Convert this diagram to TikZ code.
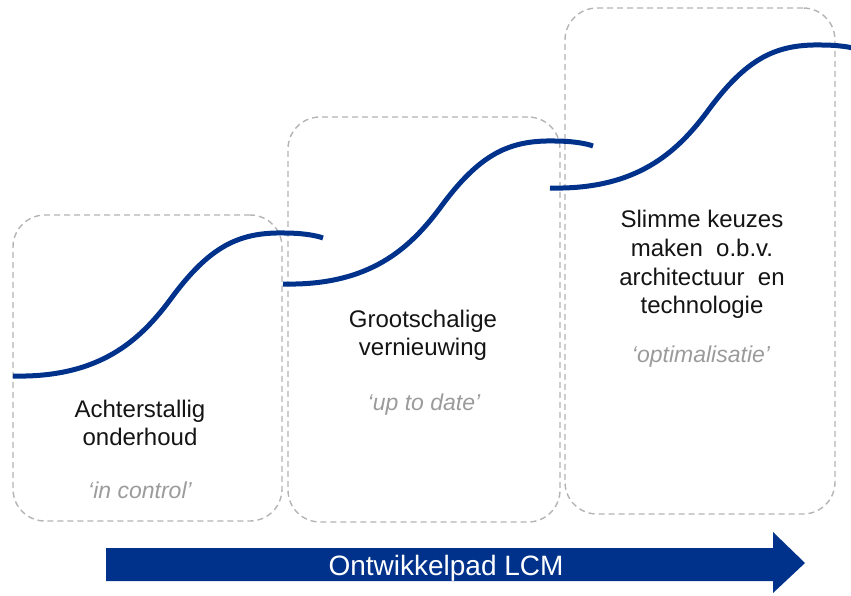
\documentclass[tikz,border=0pt]{standalone}
\usepackage{fontspec}
\setmainfont{Liberation Sans}
\definecolor{navy}{RGB}{0,50,140}
\definecolor{dashgrey}{RGB}{180,180,180}
\definecolor{txtgrey}{RGB}{155,155,155}
\definecolor{txtblack}{RGB}{20,20,20}
\tikzset{
  stagebox/.style={draw=dashgrey, dash pattern=on 6pt off 4pt, line width=1.4pt,
    rounded corners=32pt, anchor=north west, inner sep=0pt, outer sep=0pt},
  scurve/.style={draw=navy, line width=5pt},
  mainline/.style={anchor=base, font=\fontsize{24}{28}\selectfont, text=txtblack, inner sep=0pt},
  subline/.style={anchor=base, font=\fontsize{23}{28}\selectfont\itshape, text=txtgrey, inner sep=0pt},
  arrowtext/.style={anchor=base, font=\fontsize{28}{32}\selectfont, text=white, inner sep=0pt}
}
\begin{document}
\begin{tikzpicture}[x=1pt,y=-1pt]
\useasboundingbox (0,0) rectangle (851,595);
% stage boxes
\node[stagebox, minimum width=269pt, minimum height=306pt] (box1) at (13,215) {};
\node[stagebox, minimum width=272pt, minimum height=405pt] (box2) at (288,117) {};
\node[stagebox, minimum width=270pt, minimum height=506pt] (box3) at (565,8) {};
% S-curves
\foreach \dx/\dy in {0/0, 270/-92, 537/-188}{
  \draw[scurve, shift={(\dx,\dy)}] (13,376) .. controls (100,378) and (140,340) .. (170,300)
     .. controls (210,245) and (240,232) .. (285,233)
     .. controls (300,233) and (315,235) .. (323,238);
}
% texts box 1
\node[mainline] (t1a) at (140,417) {Achterstallig};
\node[mainline] (t1b) at (140,445) {onderhoud};
\node[subline] (s1) at (140,498) {‘in control’};
% texts box 2
\node[mainline] (t2a) at (423,327) {Grootschalige};
\node[mainline] (t2b) at (423,355) {vernieuwing};
\node[subline] (s2) at (424,410) {‘up to date’};
% texts box 3
\node[mainline] (t3a) at (702,227) {Slimme keuzes};
\node[mainline] (t3b) at (702,256) {maken\ \ o.b.v.};
\node[mainline] (t3c) at (702,285) {architectuur\ \ en};
\node[mainline] (t3d) at (702,313) {technologie};
\node[subline] (s3) at (701,362) {‘optimalisatie’};
% big arrow
\fill[navy] (106,548) -- (773,548) -- (773,532) -- (805,563) -- (773,593) -- (773,581) -- (106,581) -- cycle;
\node[arrowtext] (arrtxt) at (446,575) {Ontwikkelpad LCM};
\end{tikzpicture}
\end{document}
